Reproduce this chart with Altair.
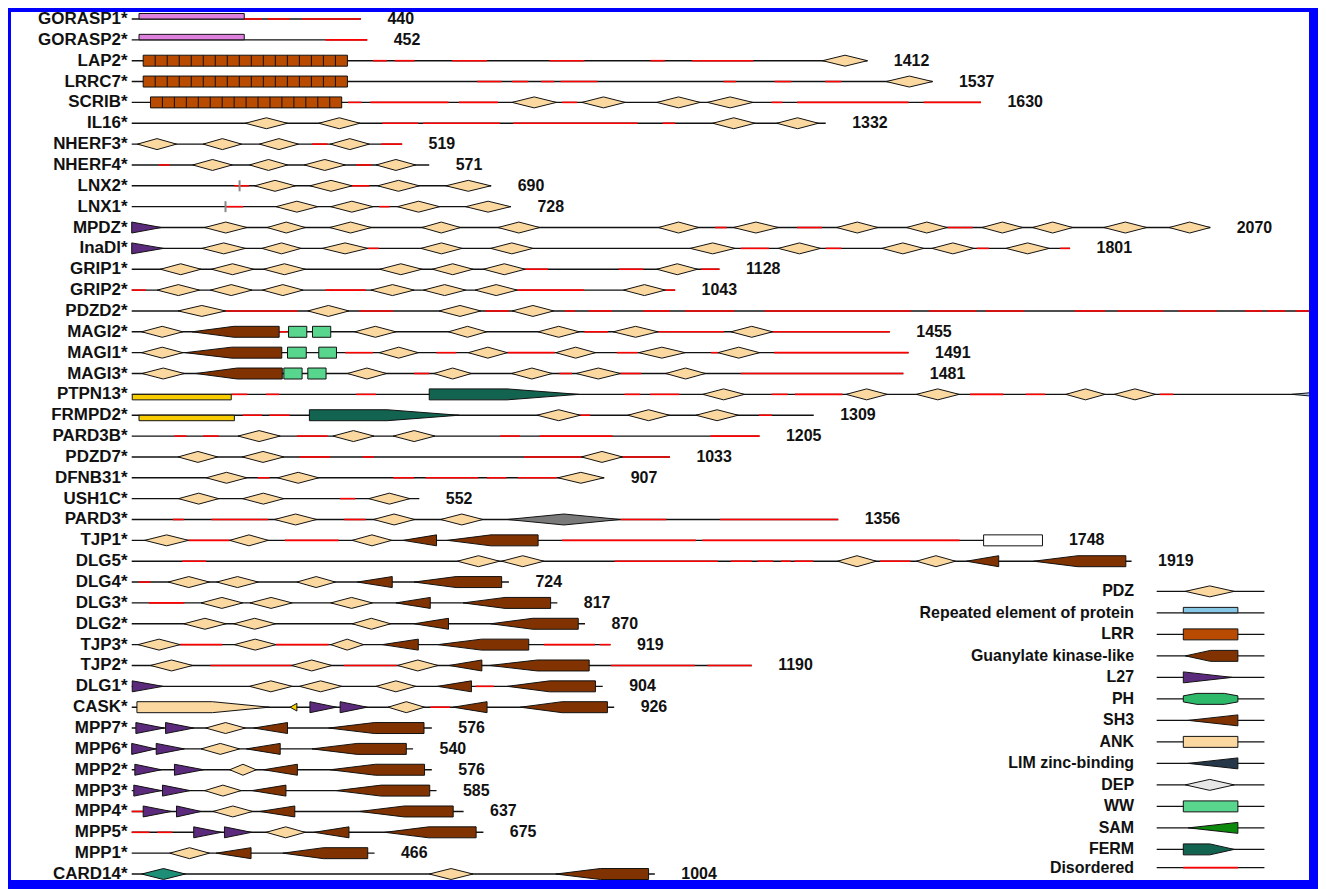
import altair as alt
import pandas as pd

# ---------------- data (residue positions) ----------------
proteins = ["GORASP1*", "GORASP2*", "LAP2*", "LRRC7*", "SCRIB*", "IL16*", "NHERF3*", "NHERF4*",
            "LNX2*", "LNX1*", "MPDZ*", "InaDl*", "GRIP1*", "GRIP2*", "PDZD2*", "MAGI2*", "MAGI1*",
            "MAGI3*", "PTPN13*", "FRMPD2*", "PARD3B*", "PDZD7*", "DFNB31*", "USH1C*", "PARD3*",
            "TJP1*", "DLG5*", "DLG4*", "DLG3*", "DLG2*", "TJP3*", "TJP2*", "DLG1*", "CASK*",
            "MPP7*", "MPP6*", "MPP2*", "MPP3*", "MPP4*", "MPP5*", "MPP1*", "CARD14*"]
lengths = [440, 452, 1412, 1537, 1630, 1332, 519, 571, 690, 728, 2070, 1801, 1128, 1043, 2839,
           1455, 1491, 1481, 2485, 1309, 1205, 1033, 907, 552, 1356, 1748, 1919, 724, 817, 870,
           919, 1190, 904, 926, 576, 540, 576, 585, 637, 675, 466, 1004]

pdz_domains = {
    "LAP2*": [(1326, 1412)],
    "LRRC7*": [(1448, 1537)],
    "SCRIB*": [(730, 815), (864, 947), (1008, 1091), (1105, 1192)],
    "IL16*": [(218, 299), (359, 438), (1115, 1196), (1238, 1318)],
    "NHERF3*": [(11, 86), (137, 211), (245, 320), (381, 456)],
    "NHERF4*": [(117, 193), (226, 299), (331, 410), (469, 545)],
    "LNX2*": [(236, 314), (342, 423), (472, 552), (603, 689)],
    "LNX1*": [(277, 357), (382, 463), (510, 591), (641, 727)],
    "MPDZ*": [(140, 221), (260, 333), (380, 460), (557, 631), (703, 783), (1011, 1088),
              (1155, 1241), (1353, 1432), (1487, 1565), (1632, 1710), (1729, 1806),
              (1866, 1948), (1991, 2070)],
    "InaDl*": [(135, 218), (250, 325), (366, 453), (555, 634), (689, 770), (1072, 1158),
               (1241, 1322), (1440, 1520), (1536, 1616), (1678, 1761)],
    "GRIP1*": [(55, 133), (153, 234), (253, 333), (476, 557), (577, 655), (675, 755), (1008, 1086)],
    "GRIP2*": [(49, 130), (151, 231), (251, 329), (459, 542), (560, 641), (659, 740), (944, 1024)],
    "PDZD2*": [(89, 180), (338, 417), (590, 670), (730, 810)],
    "MAGI2*": [(19, 98), (428, 507), (608, 681), (780, 859), (924, 1010), (1150, 1230)],
    "MAGI1*": [(19, 98), (475, 550), (646, 721), (814, 890), (973, 1062), (1125, 1205)],
    "MAGI3*": [(20, 101), (414, 489), (580, 652), (729, 807), (853, 938), (1025, 1101)],
    "PTPN13*": [(1096, 1176), (1371, 1450), (1506, 1588), (1793, 1868), (1886, 1965)],
    "FRMPD2*": [(778, 861), (952, 1032), (1083, 1164)],
    "PARD3B*": [(204, 285), (386, 465), (502, 582)],
    "PDZD7*": [(89, 165), (212, 292), (863, 942)],
    "DFNB31*": [(143, 221), (280, 359), (818, 906)],
    "USH1C*": [(90, 167), (213, 292), (455, 534)],
    "PARD3*": [(274, 355), (464, 543), (593, 674)],
    "TJP1*": [(25, 109), (188, 262), (423, 499)],
    "DLG5*": [(625, 706), (710, 791), (1355, 1429), (1506, 1581)],
    "DLG4*": [(70, 149), (163, 243), (317, 391)],
    "DLG3*": [(133, 213), (227, 308), (382, 462)],
    "DLG2*": [(100, 181), (196, 276), (423, 497)],
    "TJP3*": [(12, 93), (197, 277), (382, 445)],
    "TJP2*": [(36, 117), (307, 384), (510, 588)],
    "DLG1*": [(226, 308), (322, 403), (469, 545)],
    "CASK*": [(492, 562)],
    "MPP7*": [(142, 218)],
    "MPP6*": [(133, 207)],
    "MPP2*": [(188, 239)],
    "MPP3*": [(140, 210)],
    "MPP4*": [(156, 232)],
    "MPP5*": [(258, 333)],
    "MPP1*": [(73, 149)],
    "CARD14*": [(571, 655)],
}

gk_domains = {
    "MAGI2*": [(116, 283)], "MAGI1*": [(103, 288)], "MAGI3*": [(123, 289)],
    "TJP1*": [(606, 780)], "DLG5*": [(1731, 1908)], "DLG4*": [(542, 710)],
    "DLG3*": [(636, 804)], "DLG2*": [(689, 857)], "TJP3*": [(588, 762)],
    "TJP2*": [(687, 878)], "DLG1*": [(721, 890)], "CASK*": [(746, 913)],
    "MPP7*": [(378, 561)], "MPP6*": [(346, 527)], "MPP2*": [(381, 562)],
    "MPP3*": [(393, 572)], "MPP4*": [(437, 617)], "MPP5*": [(486, 661)],
    "MPP1*": [(290, 453)], "CARD14*": [(814, 992)],
}

sh3_domains = {
    "TJP1*": [(521, 585)], "DLG5*": [(1602, 1664)], "DLG4*": [(433, 500)],
    "DLG3*": [(507, 573)], "DLG2*": [(542, 608)], "TJP3*": [(481, 550)],
    "TJP2*": [(609, 672)], "DLG1*": [(587, 652)], "CASK*": [(617, 682)],
    "MPP7*": [(234, 299)], "MPP6*": [(220, 285)], "MPP2*": [(253, 318)],
    "MPP3*": [(231, 296)], "MPP4*": [(246, 313)], "MPP5*": [(350, 417)],
    "MPP1*": [(162, 229)],
}

l27_domains = {
    "MPDZ*": [(0, 57)], "InaDl*": [(0, 61)], "DLG1*": [(1, 60)],
    "CASK*": [(342, 393), (400, 452)], "MPP7*": [(8, 62), (65, 119)],
    "MPP6*": [(0, 46), (47, 101)], "MPP2*": [(6, 57), (82, 138)],
    "MPP3*": [(4, 57), (59, 112)], "MPP4*": [(22, 76), (86, 133)],
    "MPP5*": [(119, 172), (178, 230)],
}

ww_domains = {
    "MAGI2*": [(301, 336), (347, 382)],
    "MAGI1*": [(299, 335), (359, 393)],
    "MAGI3*": [(292, 327), (338, 373)],
}

lrr_domains = {"LAP2*": [(22, 414)], "LRRC7*": [(22, 414)], "SCRIB*": [(36, 403)]}
lrr_repeats = {"LAP2*": 17, "LRRC7*": 17, "SCRIB*": 16}

ferm_domains = {"PTPN13*": [(571, 858)], "FRMPD2*": [(341, 628)]}
grasp_domains = {"GORASP1*": [(14, 216)], "GORASP2*": [(14, 216)]}
kind_domains = {"PTPN13*": [(1, 191)], "FRMPD2*": [(14, 197)]}
box_domains = {"TJP1*": [(1635, 1748)]}
gray_domains = {"PARD3*": [(721, 938)]}
kinase_domains = {"CASK*": [(10, 264)]}
small_domains = {"CASK*": [(304, 317)]}
card_domains = {"CARD14*": [(19, 103)]}
ptp_domains = {"PTPN13*": [(2227, 2470)]}
zinc_ticks = {"LNX2*": 207, "LNX1*": 180}

disordered = {
    "GORASP1*": [(216, 250), (260, 303), (326, 440)],
    "GORASP2*": [(372, 452)],
    "LAP2*": [(463, 490), (505, 543), (615, 682), (802, 869), (996, 1023), (1075, 1193)],
    "LRRC7*": [(663, 710), (730, 761), (786, 811), (823, 894), (1136, 1160), (1234, 1266), (1331, 1362)],
    "SCRIB*": [(415, 441), (458, 608), (628, 703), (826, 855), (1228, 1249), (1277, 1491), (1520, 1630)],
    "IL16*": [(481, 550), (559, 707), (732, 971), (1019, 1043)],
    "NHERF3*": [(346, 376), (479, 519)],
    "NHERF4*": [(52, 73), (431, 460)],
    "LNX2*": [(197, 225), (423, 456)],
    "LNX1*": [(181, 214), (475, 495)],
    "MPDZ*": [(1120, 1142), (1277, 1325), (1566, 1614)],
    "InaDl*": [(453, 474), (1169, 1223), (1332, 1362), (1622, 1645), (1782, 1801)],
    "GRIP1*": [(755, 799), (935, 982), (1093, 1128)],
    "GRIP2*": [(0, 27), (372, 449), (740, 868), (1024, 1043)],
    "PDZD2*": [(180, 318), (437, 502), (679, 724), (832, 851), (877, 922), (982, 1033),
               (1062, 1157), (1215, 1496), (1530, 1621), (1639, 1713), (1810, 1868),
               (1892, 1980), (2010, 2082), (2137, 2170), (2179, 2214), (2234, 2290)],
    "MAGI2*": [(283, 299), (869, 914), (1011, 1137), (1230, 1455)],
    "MAGI1*": [(410, 463), (585, 623), (721, 812), (931, 971), (1112, 1126), (1233, 1491)],
    "MAGI3*": [(542, 571), (821, 845), (938, 978), (1169, 1481)],
    "PTPN13*": [(191, 222), (258, 283), (431, 469), (946, 976), (995, 1051), (1228, 1259),
                (1273, 1364), (1609, 1673), (1716, 1753), (1973, 1999)],
    "FRMPD2*": [(213, 250), (264, 303), (861, 880), (1204, 1229)],
    "PARD3B*": [(82, 105), (137, 167), (317, 376), (707, 745), (783, 923), (1111, 1205)],
    "PDZD7*": [(322, 381), (443, 465), (753, 864), (942, 1033)],
    "DFNB31*": [(242, 264), (502, 542), (564, 665), (682, 719), (741, 816)],
    "USH1C*": [(400, 429)],
    "PARD3*": [(79, 100), (153, 262), (408, 449), (938, 1026), (1129, 1356)],
    "TJP1*": [(109, 188), (294, 397), (826, 1083), (1095, 1589)],
    "DLG5*": [(97, 143), (927, 1125), (1150, 1190), (1201, 1231), (1246, 1265), (1272, 1308), (1436, 1495)],
    "DLG4*": [(14, 36)],
    "DLG3*": [(33, 101)],
    "TJP3*": [(93, 174), (277, 378), (791, 889), (898, 919)],
    "TJP2*": [(151, 307), (407, 509), (920, 1081), (1105, 1190)],
    "DLG1*": [(660, 695)],
    "CASK*": [(573, 611)],
    "MPP4*": [(0, 22)],
    "MPP5*": [(0, 34), (49, 78)],
}

legend_labels = ["PDZ", "Repeated element of protein", "LRR", "Guanylate kinase-like", "L27",
                 "PH", "SH3", "ANK", "LIM zinc-binding", "DEP", "WW", "SAM", "FERM", "Disordered"]

# ---------------- layout / style ----------------
PX_PER_AA = 1081 / 2070
VIEW_W, VIEW_H = 1301, 870
ROW_PX = (VIEW_H - 7 - 6) / 41
H = 5.5 / ROW_PX
X_DOMAIN = [-121 / PX_PER_AA, (VIEW_W - 121) / PX_PER_AA]
Y_DOMAIN = [-7 / ROW_PX, (VIEW_H - 7) / ROW_PX]
NAME_X = -8
LEN_OFFSET = 26.5 / PX_PER_AA

PROFILES = {
    "diamond": [(0, 0, 0), (0.5, -1, 1), (1, 0, 0)],
    "rect": [(0, -1, 1), (1, -1, 1)],
    "gk": [(0, 0, 0), (0.48, -1, 1), (1, -1, 1)],
    "taper": [(0, 0, 0), (1, -1, 1)],
    "small": [(0, 0, 0), (1, -0.7, 0.7)],
    "l27": [(0, -1, 1), (1, 0, 0)],
    "ferm": [(0, -1, 1), (0.52, -1, 1), (1, 0, 0)],
    "kinase": [(0, -1, 1), (0.57, -1, 1), (1, 0, 0)],
    "ph": [(0, -0.55, 0.55), (0.25, -1, 1), (0.75, -1, 1), (1, -0.55, 0.55)],
    "above": [(0, -1, 0), (1, -1, 0)],
    "below": [(0, 0, 1), (1, 0, 1)],
}

FILLS = {
    "PDZ": "#fbd8a0", "REP": "#87c7e6", "LRR": "#b84b00", "GK": "#803300", "L27": "#5c2a7c",
    "PH": "#2db86a", "SH3": "#803300", "ANK": "#fbd8a0", "LIM": "#26374a", "DEP": "#e6e6e6",
    "WW": "#58d68d", "SAM": "#0b8a0b", "FERM": "#12634f", "GRASP": "#de80de", "KIND": "#f7cc00",
    "BOX": "#ffffff", "GRAY": "#7a7a7a", "CARD": "#1d8f77", "PTP": "#a6bfd2", "SMALL": "#f5d000",
}

row_of = {p: i for i, p in enumerate(proteins)}

shape_rows = []
_sid = [0]


def add_shape(kind, fill, start, end, row):
    for t, top, bot in PROFILES[kind]:
        shape_rows.append({"id": _sid[0], "x": start + t * (end - start),
                           "y": row + top * H, "y2": row + bot * H, "fill": fill})
    _sid[0] += 1


domain_sets = [
    (pdz_domains, "diamond", "PDZ"), (gk_domains, "gk", "GK"), (sh3_domains, "taper", "SH3"),
    (l27_domains, "l27", "L27"), (ww_domains, "rect", "WW"), (lrr_domains, "rect", "LRR"),
    (ferm_domains, "ferm", "FERM"), (grasp_domains, "above", "GRASP"), (kind_domains, "below", "KIND"),
    (box_domains, "rect", "BOX"), (gray_domains, "diamond", "GRAY"), (kinase_domains, "kinase", "ANK"),
    (small_domains, "small", "SMALL"), (card_domains, "diamond", "CARD"), (ptp_domains, "gk", "PTP"),
]
for dset, kind, fill in domain_sets:
    for p, spans in dset.items():
        for s, e in spans:
            add_shape(kind, fill, s, e, row_of[p])

# backbone lines
line_rows = [{"x": 0, "x2": L, "y": i} for i, L in enumerate(lengths)]
red_rows = [{"x": s, "x2": e, "y": row_of[p]} for p, spans in disordered.items() for s, e in spans]

# LRR repeat dividers
div_rows = []
for p, spans in lrr_domains.items():
    n = lrr_repeats[p]
    for s, e in spans:
        for k in range(1, n):
            div_rows.append({"x": s + k * (e - s) / n, "y": row_of[p] - H, "y2": row_of[p] + H})

tick_rows = [{"x": v, "y": row_of[p] - H, "y2": row_of[p] + H} for p, v in zinc_ticks.items()]

# legend
LEG_TOP = (591.7 - 18) / ROW_PX
LEG_STEP = 21.55 / ROW_PX
LEG_LINE = ((1159.3 - 132) / PX_PER_AA, (1267.3 - 132) / PX_PER_AA)
LEG_TEXT_X = (1136.7 - 132) / PX_PER_AA
legend_glyphs = [("diamond", "PDZ", 1188, 1237), ("above", "REP", 1186, 1240.7),
                 ("rect", "LRR", 1186, 1240.7), ("gk", "GK", 1188, 1240.7),
                 ("l27", "L27", 1186, 1235), ("ph", "PH", 1186, 1240.7),
                 ("taper", "SH3", 1191, 1240.7), ("rect", "ANK", 1186, 1240.7),
                 ("taper", "LIM", 1191, 1240.7), ("diamond", "DEP", 1188, 1237),
                 ("rect", "WW", 1186, 1240.7), ("taper", "SAM", 1191, 1240.7),
                 ("ferm", "FERM", 1186, 1237)]
name_rows = [{"x": NAME_X, "y": i, "t": p} for i, p in enumerate(proteins)]
leg_text_rows = []
for i, lab in enumerate(legend_labels):
    r = LEG_TOP + i * LEG_STEP if i < 13 else LEG_TOP + 12.85 * LEG_STEP
    leg_text_rows.append({"x": LEG_TEXT_X, "y": r, "t": lab})
    line_rows.append({"x": LEG_LINE[0], "x2": LEG_LINE[1], "y": r})
    if i < 13:
        kind, fill, a, b = legend_glyphs[i]
        add_shape(kind, fill, (a - 132) / PX_PER_AA, (b - 132) / PX_PER_AA, r)
    else:
        red_rows.append({"x": (1186 - 132) / PX_PER_AA, "x2": (1240.7 - 132) / PX_PER_AA, "y": r})

# length labels (those that fall beyond the right border are not visible in the figure)
len_rows = [{"x": L + LEN_OFFSET, "y": i, "t": str(L)} for i, L in enumerate(lengths)
            if L + LEN_OFFSET + 40 / PX_PER_AA < X_DOMAIN[1]]

# ---------------- chart ----------------
xs = alt.Scale(domain=X_DOMAIN, nice=False, zero=False)
ys = alt.Scale(domain=Y_DOMAIN, nice=False, zero=False, reverse=True)
X = lambda f="x": alt.X(f"{f}:Q", scale=xs, axis=None)
Y = lambda f="y": alt.Y(f"{f}:Q", scale=ys, axis=None, stack=None)
FONT = "Liberation Sans"

back = alt.Chart(pd.DataFrame(line_rows)).mark_rule(color="#111111", strokeWidth=1.4, clip=True).encode(
    x=X(), x2="x2:Q", y=Y())
red = alt.Chart(pd.DataFrame(red_rows)).mark_rule(color="#ff0000", strokeWidth=1.6, clip=True).encode(
    x=X(), x2="x2:Q", y=Y())
shapes = alt.Chart(pd.DataFrame(shape_rows)).mark_area(
    stroke="#111111", strokeWidth=1, orient="vertical", clip=True, opacity=1).encode(
    x=X(), y=Y(), y2="y2:Q",
    fill=alt.Fill("fill:N", scale=alt.Scale(domain=list(FILLS.keys()), range=list(FILLS.values())), legend=None),
    detail="id:N")
divs = alt.Chart(pd.DataFrame(div_rows)).mark_rule(color="#111111", strokeWidth=1, clip=True).encode(
    x=X(), y=Y(), y2="y2:Q")
ticks = alt.Chart(pd.DataFrame(tick_rows)).mark_rule(color="#888888", strokeWidth=2, clip=True).encode(
    x=X(), y=Y(), y2="y2:Q")
names = alt.Chart(pd.DataFrame(name_rows)).mark_text(
    align="right", baseline="middle", font=FONT, fontWeight="bold", fontSize=17,
    color="#111111").encode(x=X(), y=Y(), text="t:N")
leg_text = alt.Chart(pd.DataFrame(leg_text_rows)).mark_text(
    align="right", baseline="middle", font=FONT, fontWeight="bold", fontSize=16,
    color="#111111").encode(x=X(), y=Y(), text="t:N")
lens = alt.Chart(pd.DataFrame(len_rows)).mark_text(
    align="left", baseline="middle", font=FONT, fontWeight="bold", fontSize=16,
    color="#111111").encode(x=X(), y=Y(), text="t:N")

chart = alt.layer(back, red, shapes, divs, ticks, names, leg_text, lens).properties(
    width=VIEW_W, height=VIEW_H,
    padding={"left": 3, "top": 3, "right": 9, "bottom": 8},
    background="#0000ff",
    autosize=alt.AutoSizeParams(type="none"),
).configure_view(fill="white", stroke=None)

chart.save("out.html", embed_options={"renderer": "svg", "actions": False})
